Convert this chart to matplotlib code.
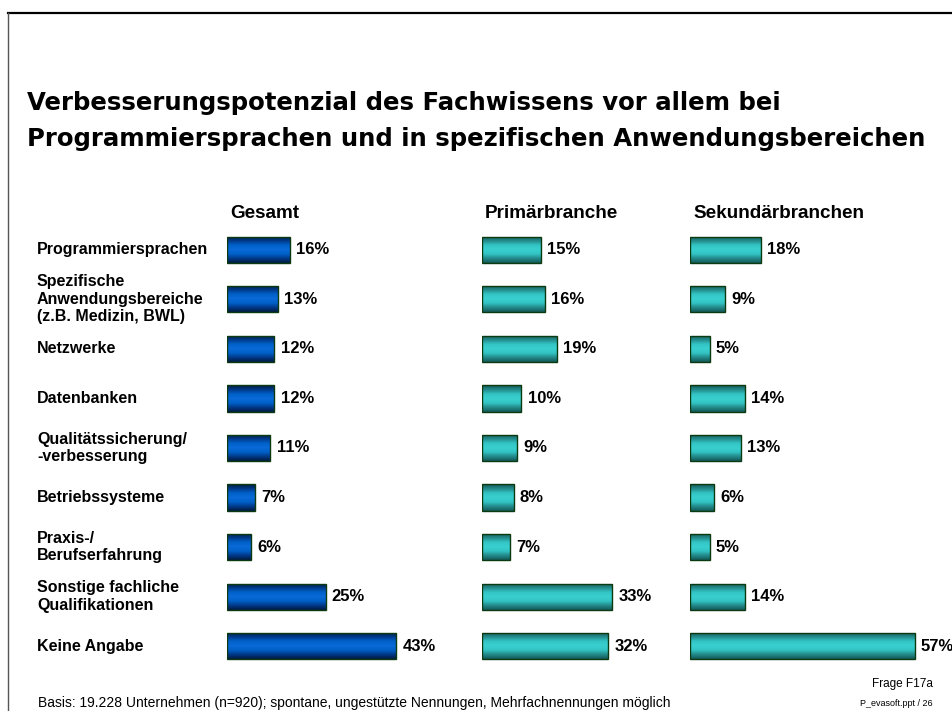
import numpy as np
import matplotlib
matplotlib.use("Agg")
import matplotlib.pyplot as plt
from matplotlib.colors import LinearSegmentedColormap
from matplotlib.lines import Line2D

# --- data -------------------------------------------------------------
categories = [
    "Programmiersprachen",
    "Spezifische\nAnwendungsbereiche\n(z.B. Medizin, BWL)",
    "Netzwerke",
    "Datenbanken",
    "Qualitätssicherung/\n-verbesserung",
    "Betriebssysteme",
    "Praxis-/\nBerufserfahrung",
    "Sonstige fachliche\nQualifikationen",
    "Keine Angabe",
]
gesamt = [16, 13, 12, 12, 11, 7, 6, 25, 43]
primaer = [15, 16, 19, 10, 9, 8, 7, 33, 32]
sekundaer = [18, 9, 5, 14, 13, 6, 5, 14, 57]
group_titles = ["Gesamt", "Primärbranche", "Sekundärbranchen"]

title = ("Verbesserungspotenzial des Fachwissens vor allem bei\n"
         "Programmiersprachen und in spezifischen Anwendungsbereichen")
footnote = "Basis: 19.228 Unternehmen (n=920); spontane, ungestützte Nennungen, Mehrfachnennungen möglich"
question = "Frage F17a"
slide_ref = "P_evasoft.ppt / 26"

# --- layout -----------------------------------------------------------
W, H = 953, 711
fig = plt.figure(figsize=(W / 100, H / 100), dpi=100)
fig.patch.set_facecolor("white")
plt.rcParams["font.family"] = ["Liberation Sans", "DejaVu Sans"]


def fx(px):
    return px / W


def fy(py):
    return 1 - py / H


# slide frame
fig.add_artist(Line2D([fx(8), fx(953)], [fy(12.5), fy(12.5)], color="black", lw=1.6))
fig.add_artist(Line2D([fx(8), fx(8)], [fy(12.5), fy(711)], color="#555555", lw=1.0))

fig.text(fx(27), fy(121), title, fontsize=17.6, fontweight="heavy",
         family="DejaVu Sans", va="center", ha="left", linespacing=1.6)

blue_cmap = LinearSegmentedColormap.from_list(
    "blue", ["#001a40", "#003a8a", "#0060c8", "#0a6ad8", "#0060c8", "#003a8a", "#001a40"])
teal_cmap = LinearSegmentedColormap.from_list(
    "teal", ["#145a5a", "#238a8a", "#33c4c4", "#3ad0d0", "#33c4c4", "#238a8a", "#145a5a"])

scale = 3.94            # pixels per percent
top_px, bot_px = 225, 671
n = len(categories)
grad = np.linspace(0, 1, 64).reshape(-1, 1)

groups = [(227, gesamt, blue_cmap), (482, primaer, teal_cmap), (690, sekundaer, teal_cmap)]
for (x0, values, cmap), gtitle in zip(groups, group_titles):
    span = 62
    ax = fig.add_axes([fx(x0), fy(bot_px), span * scale / W, (bot_px - top_px) / H])
    ax.set_xlim(0, span)
    ax.set_ylim(n - 0.5, -0.5)
    ax.axis("off")
    bars = ax.barh(range(n), values, height=0.53, color="none",
                   edgecolor="#0b3a10", linewidth=1.0, zorder=3)
    for i, (b, v) in enumerate(zip(bars, values)):
        im = ax.imshow(grad, cmap=cmap, aspect="auto", zorder=2,
                       extent=[0, v, i + 0.265, i - 0.265], interpolation="bilinear")
        im.set_clip_path(b)
        ax.annotate(f"{v}%", (v, i), xytext=(4.5, 0), textcoords="offset points",
                    va="center", ha="left", fontsize=12, fontweight="bold",
                    annotation_clip=False)
    fig.text(fx(x0 + 3), fy(213), gtitle, fontsize=13.6, fontweight="bold",
             va="center", ha="left")

row_h = (bot_px - top_px) / n
for i, cat in enumerate(categories):
    fig.text(fx(37), fy(top_px + row_h * (i + 0.5)), cat, fontsize=11.5,
             fontweight="bold", va="center", ha="left", linespacing=1.2)

fig.text(fx(38), fy(703), footnote, fontsize=10, va="center", ha="left")
fig.text(fx(933), fy(684), question, fontsize=8.5, va="center", ha="right")
fig.text(fx(933), fy(703), slide_ref, fontsize=6.5, va="center", ha="right")

fig.savefig("out.png", dpi=100)
